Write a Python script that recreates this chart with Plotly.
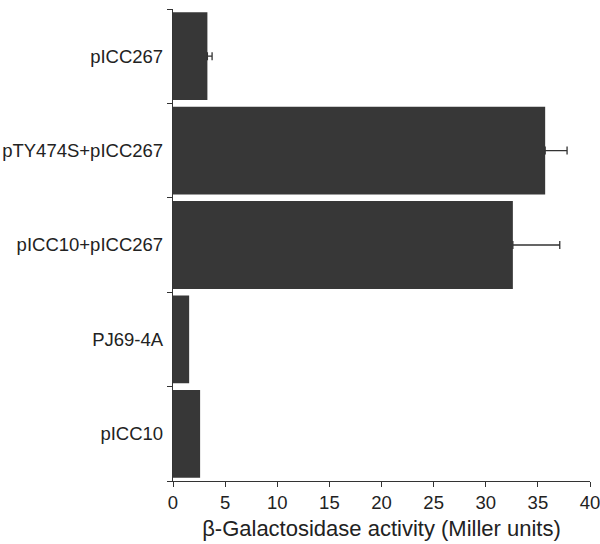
import plotly.graph_objects as go

# bottom -> top order
strains = ['pICC10', 'PJ69-4A', 'pICC10+pICC267', 'pTY474S+pICC267', 'pICC267']
activity = [2.6, 1.55, 32.6, 35.7, 3.3]

# error bars only shown on these
err_strains = ['pICC10+pICC267', 'pTY474S+pICC267', 'pICC267']
err_activity = [32.6, 35.7, 3.3]
err_plus = [4.5, 2.1, 0.45]

fig = go.Figure()
fig.add_trace(go.Bar(
    y=strains, x=activity, orientation='h',
    marker=dict(color='#373737', line=dict(width=0)),
))
fig.add_trace(go.Scatter(
    y=err_strains, x=err_activity, mode='markers',
    marker=dict(size=1, color='rgba(0,0,0,0)'),
    error_x=dict(type='data', array=err_plus, arrayminus=[0]*3, symmetric=False,
                 color='#333333', thickness=1.3, width=4),
))

fig.update_layout(
    width=600, height=544,
    margin=dict(l=173, r=10, t=9, b=63),
    plot_bgcolor='white', paper_bgcolor='white',
    font=dict(family='Liberation Sans, Arial, sans-serif', size=18.5, color='#222222'),
    bargap=0.07,
    showlegend=False,
    xaxis=dict(range=[0, 40], dtick=5, showgrid=False, zeroline=False, automargin=False,
               showline=True, linecolor='#333333', linewidth=1.3,
               ticks='outside', ticklen=5, tickcolor='#333333',
               ticklabeloverflow='allow',
               title=dict(text='β-Galactosidase activity (Miller units)', standoff=8)),
    yaxis=dict(showgrid=False, zeroline=False, showline=True, linecolor='#333333',
               automargin=False, range=[-0.5, 4.5],
               linewidth=1.3, ticks='outside', ticklen=5, tickcolor='#333333',
               tickson='boundaries', ticklabelstandoff=5),
)

fig.write_html("out.html", config={'displayModeBar': False},
               post_script="document.body.style.margin='0';")
